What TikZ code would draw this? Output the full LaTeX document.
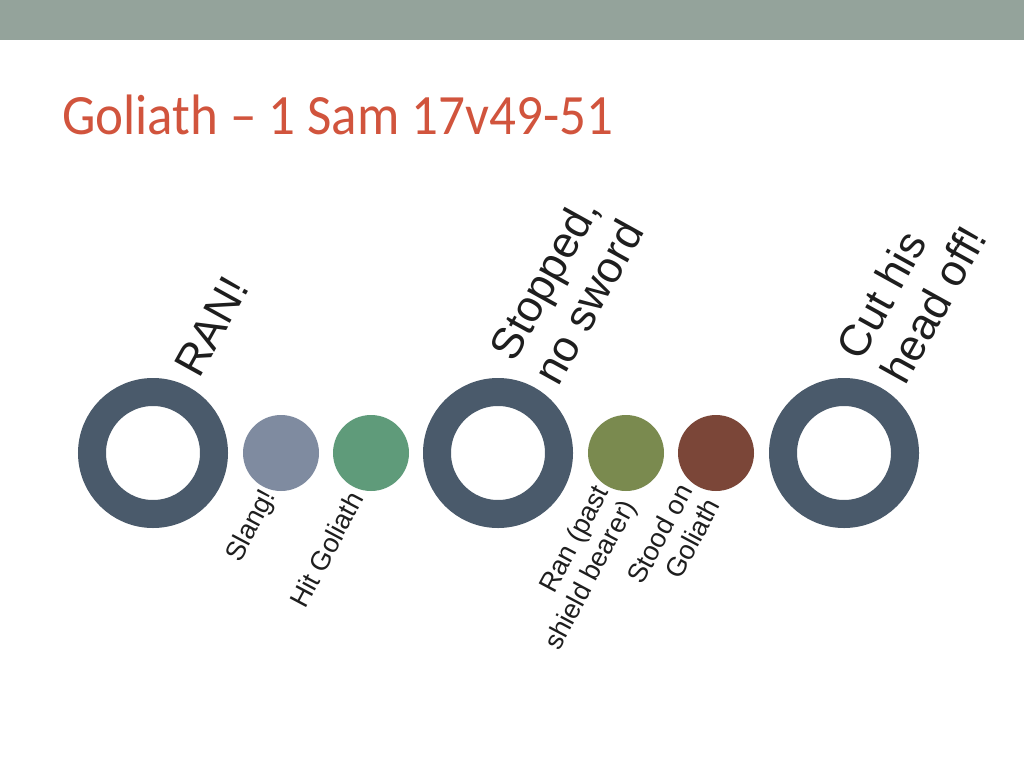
\documentclass[tikz,border=0pt]{standalone}
\usepackage{fontspec}
\setmainfont{Liberation Sans}
\newfontfamily\titlefont[FakeStretch=0.93]{Carlito}
\definecolor{bandgray}{RGB}{148,163,155}
\definecolor{titlered}{RGB}{209,84,61}
\definecolor{ringblue}{RGB}{74,90,107}
\definecolor{slate}{RGB}{127,139,160}
\definecolor{sage}{RGB}{95,155,122}
\definecolor{olive}{RGB}{122,138,79}
\definecolor{rust}{RGB}{123,70,56}
\definecolor{labeltext}{RGB}{30,30,30}
\begin{document}
\begin{tikzpicture}[x=1pt,y=-1pt,
    ring/.style={circle,draw=ringblue,line width=28pt,minimum size=122pt,inner sep=0pt},
    dot/.style={circle,minimum size=76pt,inner sep=0pt},
    biglabel/.style={rotate=61,inner sep=0pt,align=left,text=labeltext,
        font=\fontsize{44}{50}\selectfont},
    smalllabel/.style={rotate=62,inner sep=0pt,align=right,anchor=north east,text=labeltext,
        font=\fontsize{27}{31}\selectfont}]
    % Slide background and top band
    \fill[white] (0,0) rectangle (1024,768);
    \fill[bandgray] (0,0) rectangle (1024,40);

    % Title
    \node[anchor=base west,inner sep=0pt,text=titlered] (title) at (62,134)
        {\titlefont\fontsize{57}{60}\selectfont Goliath – 1 Sam 17v49-51};

    % Main events
    \node[ring] (ringA) at (153,453) {};
    \node[ring] (ringB) at (498,453) {};
    \node[ring] (ringC) at (844,453) {};

    % Minor events
    \foreach \x/\col/\name in {281/slate/slang,371/sage/hit,626/olive/past,716/rust/stood}
    {
        \node[dot,fill=\col] (\name) at (\x,453) {};
    }

    % Labels above the rings
    \node[biglabel,anchor=base west] (ranA) at (199,380) {RAN!};
    \node[biglabel,anchor=south west] (stopB) at (559,388) {Stopped,\\no sword};
    \node[biglabel,anchor=south west] (cutC) at (906,387) {Cut his\\head off!};

    % Labels below the dots
    \node[smalllabel] (slangL) at (259,486) {Slang!};
    \node[smalllabel] (hitL) at (347,489) {Hit Goliath};
    \node[smalllabel] (pastL) at (592,482) {Ran (past\\shield bearer)};
    \node[smalllabel] (stoodL) at (676,481) {Stood on\\Goliath};
\end{tikzpicture}
\end{document}
